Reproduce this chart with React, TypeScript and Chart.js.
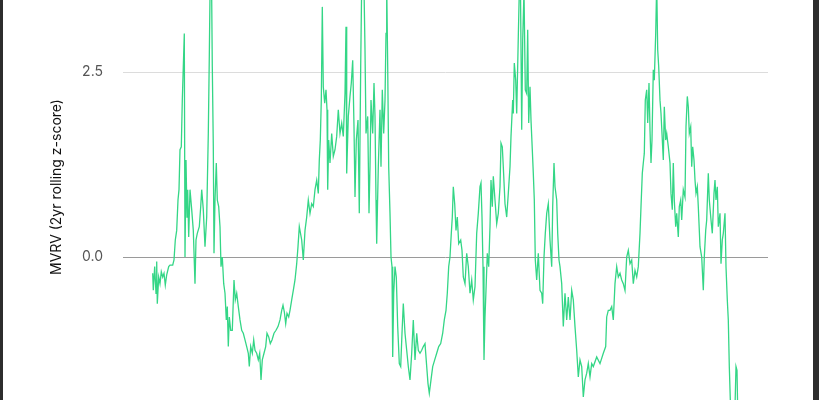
import React, { useEffect, useRef } from "react";
import { Chart, registerables } from "chart.js";

Chart.register(...registerables);

// time index (arbitrary units, left edge of the plot = 0)
const t: number[] = [
  29.7, 30.3, 31.7, 33, 33.7, 34.3, 35.7, 37, 38.3, 39.7, 41, 42.3, 43.7, 45.7, 47, 49.7, 51, 52.3, 53.7, 55, 56, 57, 58.3, 59.3, 60.3, 61.3, 62, 63, 64, 64.7, 65.7, 67, 68.7, 70.3, 72, 73, 74.3, 76.3, 77.7, 78.7, 80.3, 82, 83.7, 85.3, 86.3, 87.3, 88.3, 89.3, 90.3, 91, 92, 93.3, 94.3, 95.7, 97, 98, 99.3, 100.7, 102, 103.3, 104.3, 105.3, 106.3, 107.7, 109.3, 111, 112.3, 113.7, 115.3, 117, 118.7, 120.3, 122, 123.7, 125.3, 126.3, 127.7, 129.3, 130.7, 132, 133.7, 135.3, 136.7, 138, 139.3, 141, 142.7, 144, 145.7, 147.3, 149, 151, 153, 155, 157, 158.7, 160, 161.3, 162.7, 164, 165.7, 167, 168.7, 170.3, 172, 173.7, 175, 176.3,
  178.7, 180.3, 182, 183.7, 185.3, 187, 188.7, 190.3, 192, 193.7, 195.3, 196.3, 197.3, 198.3, 199.3, 200.3, 201.7, 203, 204, 204.7, 205.7, 207, 208.7, 210.3, 212, 213.7, 215.3, 217, 218.7, 220.3, 222, 223, 223.7, 225.3, 227, 228.3, 229.7, 231, 232, 233.3, 235, 236.3, 237.7, 238.7, 239.7, 240.7, 242, 243, 244.7, 246, 247, 248, 249.7, 251, 252, 253, 253.7, 255.3, 257, 258, 259.3, 260.7, 262, 263, 263.7, 264.7, 265.7, 267, 268, 269, 269.7, 270.7, 272, 273.3, 274.7, 276.3, 277.7, 279, 280.3, 282, 283.7, 285.3, 287, 288.7, 290.3, 292, 293.7, 295.3, 297, 298.7, 300.3, 302, 303.7, 305, 306.3, 308, 309.7, 311.7, 313.7, 315.7, 317.7, 319.7, 321.3, 323, 324.3, 325.7, 327, 328.3, 329.3, 330.3, 331.7, 333, 334.3, 335.7,
  337.7, 339, 340.3, 342, 343.7, 345.3, 347, 348.7, 350.3, 352, 353.7, 355.3, 357, 358, 359, 360, 361, 362, 363, 364.3, 365.7, 367, 368, 369.3, 370.3, 372, 373.7, 375.3, 377, 378, 379.3, 380.3, 382, 383.7, 385.3, 387, 388, 389.7, 390.3, 391.3, 392.7, 393.7, 395.3, 396.3, 397.3, 398.7, 399.7, 401, 402.3, 403.7, 404.7, 405.7, 407, 408, 409.3, 410.3, 411.3, 412.3, 413.7, 415.3, 417, 418.7, 419.7, 421, 422.3, 423.7, 425.3, 427, 428.7, 429.7, 431, 432, 433.7, 434.7, 436, 437, 438.7, 440.3, 442, 443.7, 445.3, 447, 448.7, 450.3, 452, 453.7, 455.3, 457, 458.7, 460.3, 462, 463.7, 465.3, 467, 468.7, 470.3, 473.7, 477, 480.3, 482.7, 483.7, 485.3,
  487, 488.7, 490.3, 492, 493.7, 495.3, 497, 498.7, 500.3, 502, 503.7, 505.3, 507, 508.7, 510.3, 512, 513.7, 515.3, 517, 518, 519.3, 520.3, 521.3, 522.3, 523.7, 524.7, 526, 527, 528, 529, 530.3, 531.3, 532.7, 533.7, 534.7, 535.7, 537, 538, 539, 540.3, 541.3, 542.7, 543.7, 545.3, 547, 548, 549.3, 550.3, 551.3, 552.7, 553.7, 555.3, 556.3, 557.7, 558.7, 560.3, 562, 563, 564.3, 565.3, 566.3, 567.7, 568.7, 569.7, 571, 572, 573, 574.3, 575.3, 577, 578.7, 580.3, 581.3, 582.7, 583.7, 585.3, 586.3, 588, 589.3, 591, 592, 593, 594.3, 595.3, 597, 598, 599.3, 600.3, 602, 603, 604.3, 605.3, 606.3, 607.7, 609.7, 611.7, 613, 614, 615,
];

// MVRV 2yr rolling z-score
const zScore: number[] = [
  -0.22, -0.45, -0.13, -0.49, -0.06, -0.63, -0.27, -0.36, -0.2, -0.27, -0.22, -0.38, -0.24, -0.13, -0.11, -0.11, -0.04, 0.23, 0.36, 0.77, 0.91, 1.45, 1.49, 2.12, 2.57, 3.02, 0.0, 1.31, 0.54, 0.91, 0.27, 0.91, 0.64, 0.36, -0.36, 0.23, 0.32, 0.41, 0.68, 0.91, 0.64, 0.14, 0.54, 1.67, 2.71, 3.9, 4.1, 2.57, 1.49, 0.05, 0.77, 1.27, 0.77, 0.68, 0.41, -0.13, 0.0, -0.36, -0.49, -0.85, -0.67, -1.21, -0.81, -0.99, -0.99, -0.31, -0.58, -0.49, -0.67, -0.85, -0.99, -1.03, -1.12, -1.21, -1.3, -1.48, -1.21, -1.3, -1.12, -1.26, -1.3, -1.39, -1.3, -1.66, -1.39, -1.3, -1.21, -1.03, -1.08, -1.17, -1.12, -1.03, -0.99, -0.94, -0.85, -0.72, -0.65, -0.74, -0.9, -0.76, -0.81, -0.72, -0.58, -0.45, -0.31, -0.09, 0.14, 0.41,
  0.23, -0.04, 0.36, 0.54, 0.77, 0.59, 0.72, 0.68, 0.91, 1.04, 0.86, 1.31, 1.58, 2.12, 3.38, 2.3, 2.08, 2.26, 1.99, 0.91, 1.58, 1.27, 1.67, 1.36, 1.45, 1.63, 1.99, 1.67, 1.81, 1.63, 2.21, 3.11, 1.13, 1.9, 2.17, 2.35, 2.66, 1.76, 0.81, 1.58, 1.85, 0.59, 2.57, 3.7, 4.2, 3.9, 2.8, 1.67, 1.9, 0.59, 1.22, 2.12, 1.67, 2.35, 1.9, 0.77, 0.18, 1.22, 1.99, 1.22, 2.26, 1.67, 2.12, 3.02, 3.7, 2.57, 1.22, 0.59, 0.0, -0.13, -1.35, -0.49, -0.13, -0.27, -0.94, -1.44, -1.48, -1.03, -0.63, -1.03, -1.26, -1.48, -1.66, -1.3, -0.85, -1.39, -1.03, -1.26, -1.3, -1.26, -1.21, -1.17, -1.48, -1.71, -1.84, -1.66, -1.48, -1.39, -1.3, -1.21, -1.17, -1.03, -0.85, -0.72, -0.49, -0.13, 0.0, 0.32, 0.54, 0.95, 0.72, 0.36, 0.54, 0.18,
  0.23, 0.09, -0.27, -0.36, 0.05, -0.13, -0.49, -0.31, -0.58, -0.4, 0.32, 0.59, 0.95, 1.0, 0.54, -0.13, -1.39, -0.81, -0.45, 0.05, -0.13, 0.41, 1.04, 0.68, 1.09, 0.77, 0.45, 0.59, 0.95, 1.54, 1.49, 1.22, 0.72, 0.54, 0.86, 1.22, 1.63, 2.12, 1.94, 2.62, 2.39, 1.94, 2.98, 3.6, 3.9, 1.72, 2.93, 3.6, 2.26, 2.21, 3.07, 1.81, 2.3, 1.85, 1.45, 1.13, 0.77, -0.04, -0.31, 0.05, -0.45, -0.49, -0.63, 0.0, 0.32, 0.59, 0.72, 0.23, -0.13, 0.68, 1.27, 0.95, 0.77, 0.32, -0.04, -0.13, -0.36, -0.94, -0.49, -0.85, -0.54, -0.85, -0.45, -0.58, -0.94, -1.26, -1.62, -1.39, -1.48, -1.89, -1.66, -1.57, -1.44, -1.62, -1.44, -1.48, -1.35, -1.44, -1.3, -1.21, -0.81, -0.72,
  -0.72, -0.67, -0.85, -0.36, -0.13, -0.27, -0.22, -0.31, -0.36, -0.45, 0.0, 0.09, -0.09, -0.04, -0.36, -0.18, -0.27, -0.13, 0.32, 0.68, 1.13, 1.27, 1.4, 2.12, 2.26, 1.81, 2.35, 1.72, 1.27, 1.58, 2.53, 2.39, 3.02, 3.7, 2.8, 2.57, 2.12, 1.94, 1.67, 1.31, 2.03, 1.58, 1.67, 1.49, 1.27, 0.86, 0.64, 1.27, 0.77, 0.41, 0.59, 0.27, 0.68, 0.77, 0.5, 0.91, 0.81, 1.76, 2.17, 2.03, 1.67, 1.76, 1.22, 1.49, 1.31, 1.04, 0.86, 0.95, 0.68, 0.14, 0.0, -0.45, 0.0, 0.36, 0.5, 1.13, 0.77, 0.5, 0.32, 0.86, 1.04, 0.77, 0.95, 0.41, 0.59, -0.09, 0.23, 0.32, 0.59, -0.13, -0.58, -0.85, -1.48, -2.1, -2.4, -2.2, -1.48, -1.53, -2.3,
];

const yTicks: number[] = [0, 2.5];
const yTitle = "MVRV (2yr rolling z-score)";

const FONT = "Inter, 'Liberation Sans', Arial, sans-serif";

export default function App() {
  const ref = useRef<HTMLCanvasElement | null>(null);

  useEffect(() => {
    if (!ref.current) return;
    const points = t.map((x, i) => ({ x, y: zScore[i] }));

    const titlePlugin = {
      id: "yTitle",
      afterDraw(chart: any) {
        const ctx = chart.ctx;
        ctx.save();
        ctx.translate(57, 187);
        ctx.rotate(-Math.PI / 2);
        ctx.font = `14px ${FONT}`;
        ctx.fillStyle = "#111";
        ctx.textAlign = "center";
        ctx.textBaseline = "middle";
        ctx.fillText(yTitle, 0, 0);
        ctx.restore();
      },
    };

    const chart = new Chart(ref.current, {
      type: "line",
      data: {
        datasets: [
          {
            data: points,
            borderColor: "rgb(52, 214, 134)",
            borderWidth: 1.3,
            pointRadius: 0,
            tension: 0,
            fill: false,
          },
        ],
      },
      options: {
        animation: false,
        responsive: false,
        maintainAspectRatio: false,
        layout: { autoPadding: false, padding: { left: 0, right: 51, top: 0, bottom: 0 } },
        plugins: { legend: { display: false }, tooltip: { enabled: false } },
        scales: {
          x: {
            type: "linear",
            min: 0,
            max: 645,
            display: false,
          },
          y: {
            min: -1.932,
            max: 3.473,
            afterFit(scale: any) {
              scale.width = 123;
              scale.paddingTop = 0;
              scale.paddingBottom = 0;
            },
            afterBuildTicks(scale: any) {
              scale.ticks = yTicks.map((v) => ({ value: v }));
            },
            border: { display: false },
            grid: {
              drawTicks: false,
              color: (c: any) => (c.tick && c.tick.value === 0 ? "#9a9a9a" : "#dcdcdc"),
              lineWidth: 1,
            },
            ticks: {
              padding: 20,
              color: "#555",
              font: { family: FONT, size: 14 },
              callback: (v: any) => Number(v).toFixed(1),
            },
          },
        },
      },
      plugins: [titlePlugin],
    });
    return () => chart.destroy();
  }, []);

  return (
    <div style={{ position: "fixed", left: 0, top: 0, width: 819, height: 400, background: "#fff", overflow: "hidden" }}>
      <canvas ref={ref} width={819} height={400} style={{ position: "absolute", left: 0, top: 0, width: 819, height: 400 }} />
      <div style={{ position: "absolute", left: 0, top: 0, width: 3, height: 400, background: "#2d2d2d" }} />
      <div style={{ position: "absolute", left: 813, top: 0, width: 6, height: 400, background: "#2d2d2d" }} />
    </div>
  );
}
